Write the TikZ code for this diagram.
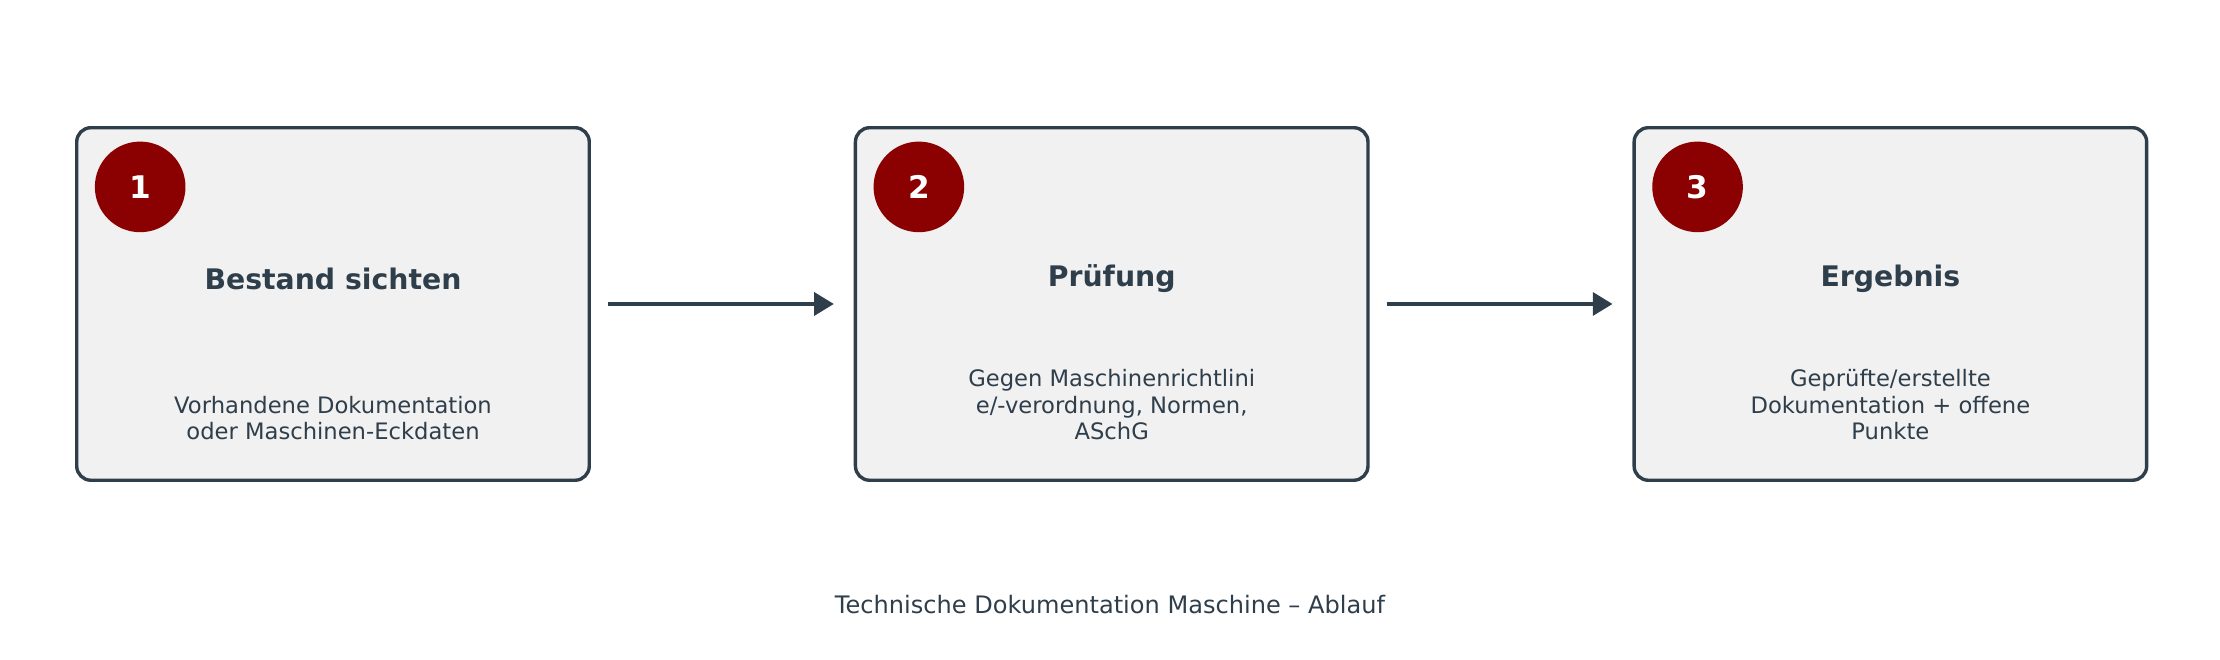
\documentclass[tikz,border=0pt]{standalone}
\usepackage{fontspec}
\setmainfont{DejaVu Sans}
\usetikzlibrary{arrows.meta}
\definecolor{slate}{HTML}{2F3E4B}
\definecolor{boxgray}{HTML}{F1F1F1}
\definecolor{darkred}{HTML}{8B0000}
\tikzstyle{stepbox}=[draw=slate,fill=boxgray,line width=1.2pt,rounded corners=5pt,minimum width=181pt,minimum height=124.5pt,inner sep=0pt]
\tikzstyle{badge}=[fill=darkred,circle,minimum size=32pt,inner sep=0pt,text=white,font=\fontsize{11}{13}\selectfont\bfseries]
\tikzstyle{steptitle}=[text=slate,font=\fontsize{10}{12}\selectfont\bfseries]
\tikzstyle{stepdesc}=[text=slate,align=center,font=\fontsize{8}{9.5}\selectfont,anchor=south]
\tikzstyle{flow}=[draw=slate,line width=1.6pt,-{Triangle[length=7pt,width=8pt]}]
\newcommand{\stepnode}[5]{% name, left x, number, title, description
  \node[stepbox,anchor=north west] (#1) at (#2,89) {};
  \node[badge] (#1num) at ($(#1.north west)+(46,43)$) {#3};
  \node[steptitle] (#1title) at ($(#1.north)+(0,108)$) {#4};
  \node[stepdesc] (#1desc) at ($(#1.north)+(0,229)$) {#5};
}
\usetikzlibrary{calc}
\begin{document}
\begin{tikzpicture}[x=0.5pt,y=-0.5pt]
\useasboundingbox (0,0) rectangle (1568,466);
% steps
\stepnode{bestand}{53}{1}{Bestand sichten}{Vorhandene Dokumentation\\oder Maschinen-Eckdaten}
\stepnode{pruefung}{603}{2}{Prüfung}{Gegen Maschinenrichtlini\\e/-verordnung, Normen,\\ASchG}
\stepnode{ergebnis}{1153}{3}{Ergebnis}{Geprüfte/erstellte\\Dokumentation + offene\\Punkte}
% arrows
\draw[flow] ($(bestand.east)+(12,0)$) -- ($(pruefung.west)+(-14,0)$);
\draw[flow] ($(pruefung.east)+(12,0)$) -- ($(ergebnis.west)+(-14,0)$);
% caption
\node[text=slate,font=\fontsize{8.5}{10}\selectfont] (caption) at (784,427) {Technische Dokumentation Maschine – Ablauf};
\end{tikzpicture}
\end{document}
